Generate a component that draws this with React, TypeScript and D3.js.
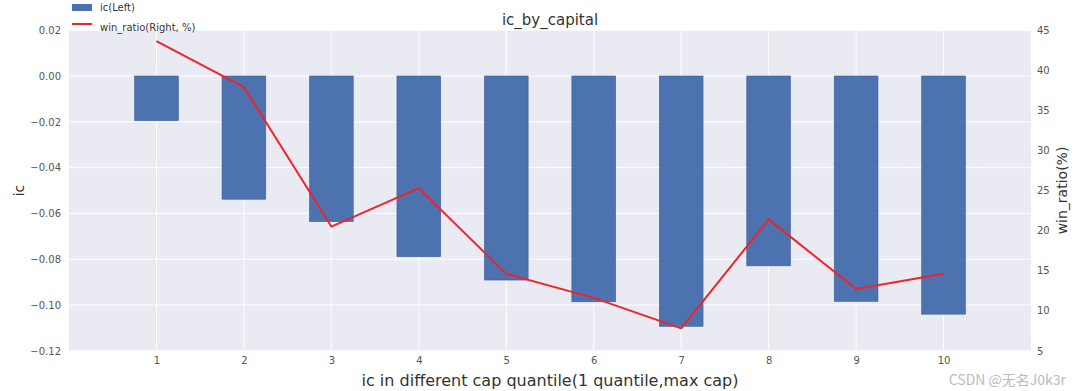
import React, { useEffect, useRef } from "react";
import * as d3 from "d3";

const quantiles = [1, 2, 3, 4, 5, 6, 7, 8, 9, 10];
const icValues = [-0.0195, -0.0538, -0.0636, -0.0789, -0.0891, -0.0986, -0.1093, -0.0829, -0.0984, -0.1040];
const winRatio = [43.65, 37.9, 20.5, 25.3, 14.6, 11.6, 7.8, 21.4, 12.7, 14.6];
const leftTicks = [0.02, 0.0, -0.02, -0.04, -0.06, -0.08, -0.1, -0.12];
const rightTicks = [5, 10, 15, 20, 25, 30, 35, 40, 45];

const App = () => {
  const svgRef = useRef<SVGSVGElement>(null);

  useEffect(() => {
    const w = 1080;
    const h = 391;
    const left = 69;
    const right = 1031;
    const top = 30.2;
    const bottom = 350.8;
    const font = "DejaVu Sans, sans-serif";

    const svg = d3.select(svgRef.current).attr("width", w).attr("height", h).style("background", "#fff");
    svg.selectAll("*").remove();

    // scales
    const x = d3.scaleLinear().domain([0, 11]).range([left, right]);
    const yL = d3.scaleLinear().domain([-0.12, 0.02]).range([bottom, top]);
    const yR = d3.scaleLinear().domain([5, 45]).range([bottom, top]);

    // plot background + grid
    svg.append("rect")
      .attr("x", left).attr("y", top)
      .attr("width", right - left).attr("height", bottom - top)
      .attr("fill", "#eaeaf2");

    svg.append("g")
      .selectAll("line.hgrid")
      .data(leftTicks)
      .join("line")
      .attr("x1", left).attr("x2", right)
      .attr("y1", (d) => yL(d)).attr("y2", (d) => yL(d))
      .attr("stroke", "#fff").attr("stroke-width", 1);

    svg.append("g")
      .selectAll("line.vgrid")
      .data(quantiles)
      .join("line")
      .attr("x1", (d) => x(d)).attr("x2", (d) => x(d))
      .attr("y1", top).attr("y2", bottom)
      .attr("stroke", "#fff").attr("stroke-width", 1);

    // bars
    const barW = x(0.5) - x(0);
    svg.append("g")
      .selectAll("rect")
      .data(icValues)
      .join("rect")
      .attr("x", (d, i) => x(quantiles[i]) - barW / 2)
      .attr("y", yL(0))
      .attr("width", barW)
      .attr("height", (d) => yL(d) - yL(0))
      .attr("fill", "#4c72b0")
      .attr("stroke", "#3f5f95")
      .attr("stroke-width", 0.6);

    // line on right axis
    const line = d3.line<number>()
      .x((d, i) => x(quantiles[i]))
      .y((d) => yR(d));
    svg.append("path")
      .datum(winRatio)
      .attr("d", line)
      .attr("fill", "none")
      .attr("stroke", "#f0222a")
      .attr("stroke-width", 2)
      .attr("stroke-linejoin", "round");

    // axes
    const fmt = d3.format(".2f");
    const axL = svg.append("g")
      .attr("transform", `translate(${left},0)`)
      .call(d3.axisLeft(yL).tickValues(leftTicks).tickSize(0).tickPadding(8).tickFormat((d) => fmt(d as number).replace("-", "\u2212")));
    const axR = svg.append("g")
      .attr("transform", `translate(${right},0)`)
      .call(d3.axisRight(yR).tickValues(rightTicks).tickSize(0).tickPadding(6));
    const axB = svg.append("g")
      .attr("transform", `translate(0,${bottom})`)
      .call(d3.axisBottom(x).tickValues(quantiles).tickSize(0).tickPadding(6).tickFormat(d3.format("d")));

    [axL, axR, axB].forEach((ax) => {
      ax.select(".domain").remove();
      ax.selectAll("text").attr("fill", "#555").style("font-family", font).style("font-size", "10px");
    });

    // titles
    svg.append("text")
      .attr("x", (left + right) / 2).attr("y", 25)
      .attr("text-anchor", "middle")
      .style("font-family", font).style("font-size", "15px")
      .attr("fill", "#333")
      .text("ic_by_capital");

    svg.append("text")
      .attr("x", (left + right) / 2).attr("y", 386)
      .attr("text-anchor", "middle")
      .style("font-family", font).style("font-size", "16px")
      .attr("fill", "#333")
      .text("ic in different cap quantile(1 quantile,max cap)");

    svg.append("text")
      .attr("transform", `translate(24,${(top + bottom) / 2}) rotate(-90)`)
      .attr("text-anchor", "middle")
      .style("font-family", font).style("font-size", "14px")
      .attr("fill", "#333")
      .text("ic");

    svg.append("text")
      .attr("transform", `translate(1067,${(top + bottom) / 2}) rotate(-90)`)
      .attr("text-anchor", "middle")
      .style("font-family", font).style("font-size", "14px")
      .attr("fill", "#333")
      .text("win_ratio(%)");

    // legend
    const lg = svg.append("g").style("font-family", font).style("font-size", "10px");
    lg.append("rect").attr("x", 72).attr("y", 4).attr("width", 20).attr("height", 7).attr("fill", "#4c72b0");
    lg.append("text").attr("x", 100).attr("y", 11).attr("fill", "#333").text("ic(Left)");
    lg.append("line").attr("x1", 72).attr("x2", 92).attr("y1", 24).attr("y2", 24).attr("stroke", "#f0222a").attr("stroke-width", 2);
    lg.append("text").attr("x", 100).attr("y", 31).attr("fill", "#333").text("win_ratio(Right, %)");

    // watermark
    svg.append("text")
      .attr("x", 1066).attr("y", 385)
      .attr("text-anchor", "end")
      .style("font-family", "Noto Sans CJK SC, sans-serif").style("font-size", "14px")
      .attr("fill", "#bbb")
      .text("CSDN @无名J0k3r");
  }, []);

  return (
    <div style={{ position: "absolute", left: 0, top: 0 }}>
      <svg ref={svgRef}></svg>
    </div>
  );
};

export default App;
